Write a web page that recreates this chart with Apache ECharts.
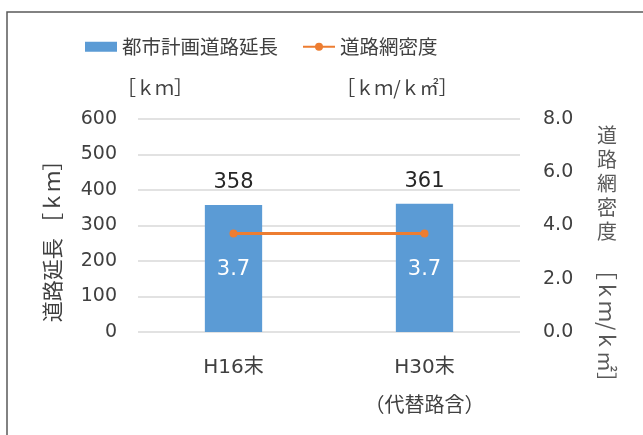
<!DOCTYPE html>
<html><head><meta charset="utf-8">
<script src="https://cdn.jsdelivr.net/npm/echarts@6/dist/echarts.min.js"></script>
<style>html,body{margin:0;padding:0;background:#fff}#c{width:643px;height:435px}</style>
</head><body><div id="c"></div>
<script>
var categories = ['H16末', 'H30末\n（代替路含）'];
var roadLength = [358, 361];
var roadDensity = [3.7, 3.7];
var leftTicks = {min: 0, max: 600, interval: 100};
var rightTicks = {min: 0, max: 8, interval: 2};
var FONT = '"DejaVu Sans", "Noto Sans CJK JP", sans-serif';
var CJK = '"Noto Sans CJK JP", sans-serif';
var chart = echarts.init(document.getElementById('c'));
chart.setOption({
  animation: false,
  textStyle: {fontFamily: FONT},
  legend: {
    left: 80, top: 32,
    itemWidth: 32, itemHeight: 10, itemGap: 24,
    textStyle: {fontSize: 19.5, color: '#404040', fontFamily: CJK},
    data: [{name: '都市計画道路延長', icon: 'rect'}, {name: '道路網密度'}]
  },
  grid: {left: 138, right: 123, top: 119, bottom: 103},
  xAxis: {
    type: 'category', data: categories,
    axisLine: {show: false}, axisTick: {show: false},
    axisLabel: {fontSize: 20, color: '#404040', margin: 16, lineHeight: 39, fontFamily: FONT}
  },
  yAxis: [{
    type: 'value', min: leftTicks.min, max: leftTicks.max, interval: leftTicks.interval,
    axisLine: {show: false}, axisTick: {show: false},
    axisLabel: {fontSize: 19, color: '#404040', margin: 21, fontFamily: FONT},
    splitLine: {lineStyle: {color: '#d9d9d9', width: 1.5}}
  }, {
    type: 'value', min: rightTicks.min, max: rightTicks.max, interval: rightTicks.interval,
    axisLine: {show: false}, axisTick: {show: false},
    axisLabel: {fontSize: 19, color: '#404040', margin: 23, fontFamily: FONT,
      formatter: function (v) { return v.toFixed(1); }},
    splitLine: {show: false}
  }],
  series: [{
    name: '都市計画道路延長', type: 'bar', data: roadLength, barWidth: '30%',
    itemStyle: {color: '#5b9bd5'},
    label: {show: true, position: 'top', distance: 12, fontSize: 21, color: '#262626', fontFamily: FONT}
  }, {
    name: '道路網密度', type: 'line', yAxisIndex: 1, data: roadDensity,
    symbol: 'circle', symbolSize: 8,
    lineStyle: {color: '#ed7d31', width: 3}, itemStyle: {color: '#ed7d31'},
    label: {show: true, position: 'bottom', distance: 22, fontSize: 21, color: '#ffffff', fontFamily: FONT,
      formatter: function (p) { return p.value.toFixed(1); }}
  }],
  graphic: [
    {type: 'rect', silent: true, shape: {x: 7, y: 12, width: 700, height: 500},
      style: {fill: 'none', stroke: '#595959', lineWidth: 1.5}},
    {type: 'text', x: 155, y: 88, style: {text: '［ｋｍ］', font: '19px ' + CJK, fill: '#404040', align: 'center', verticalAlign: 'middle'}},
    {type: 'text', x: 397, y: 88, style: {text: '［ｋｍ/ｋ㎡］', font: '19px ' + CJK, fill: '#404040', align: 'center', verticalAlign: 'middle'}},
    {type: 'text', x: 52, y: 236, rotation: Math.PI / 2, style: {text: '道路延長 ［ｋｍ］', font: '21px ' + CJK, fill: '#404040', align: 'center', verticalAlign: 'middle'}},
    {type: 'text', x: 607, y: 123, style: {text: '道\n路\n網\n密\n度', font: '20px ' + CJK, lineHeight: 24, fill: '#595959', align: 'center', verticalAlign: 'top'}},
    {type: 'text', x: 607, y: 326, rotation: -Math.PI / 2, style: {text: '［ｋｍ/ｋ㎡］', font: '21px ' + CJK, fill: '#595959', align: 'center', verticalAlign: 'middle'}}
  ]
});
</script></body></html>
